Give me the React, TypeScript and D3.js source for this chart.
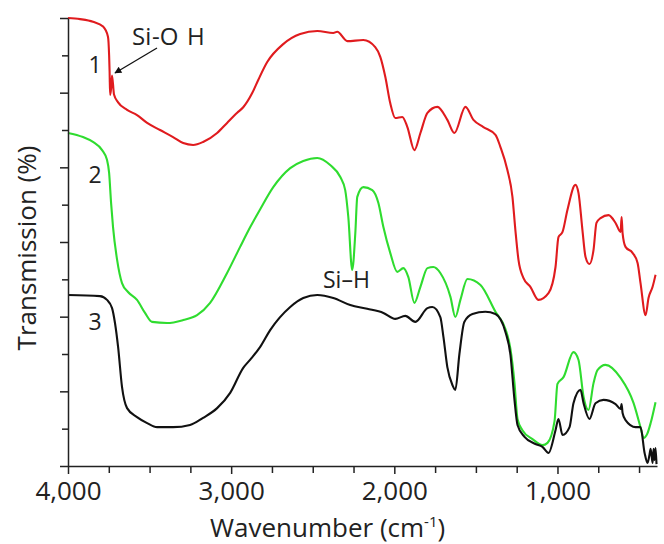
import React, { useEffect, useRef } from "react";
import * as d3 from "d3";

// [wavenumber (cm-1), transmission (a.u.)]
const spectrum1 = [
  [4000, 120], [3926, 119.7], [3847, 119], [3785, 117.7], [3755, 115], [3748, 110],
  [3745, 105.6], [3742, 99.4], [3736, 101], [3730, 104.6], [3718, 99.5], [3693, 97.4],
  [3638, 95.4], [3577, 94], [3515, 91.9], [3436, 90], [3356, 88.1], [3294, 86.5],
  [3233, 86], [3172, 86.8], [3086, 89.2], [3025, 91.9], [2963, 94.6], [2926, 96.1],
  [2871, 99.9], [2834, 103.4], [2779, 108.2], [2681, 113], [2577, 115.7], [2472, 116.5],
  [2374, 116], [2350, 116.3], [2288, 113.8], [2190, 114.1], [2117, 112.2], [2086, 109.6],
  [2055, 104.2], [2025, 97.2], [1994, 93.2], [1951, 93.5], [1920, 90.8], [1877, 84.6],
  [1840, 89.2], [1797, 94.6], [1736, 96.2], [1675, 92.7], [1632, 89.2], [1564, 96.2],
  [1515, 92.7], [1454, 90.8], [1380, 88.7], [1350, 85.5], [1307, 79.3], [1276, 72.1],
  [1258, 63.2], [1239, 55.2], [1209, 50.4], [1166, 48], [1117, 44.5], [1055, 46.3],
  [1012, 53.3], [994, 61.3], [969, 62.7], [939, 68.6], [890, 75.3], [871, 73.1],
  [847, 63.2], [828, 56], [804, 54.1], [779, 57.9], [761, 65.1], [736, 66.4],
  [687, 67.2], [644, 65.1], [613, 62.7], [607, 66.7], [601, 62.4], [583, 58.7],
  [540, 57.1], [509, 54.4], [491, 49], [460, 40.4], [442, 45], [417, 48], [399, 51.2],
];

const spectrum2 = [
  [4000, 89.2], [3908, 88.1], [3847, 86.8], [3791, 84.6], [3761, 82], [3748, 78.5],
  [3736, 70.5], [3724, 64], [3699, 55.2], [3669, 49], [3632, 46.6], [3577, 44.5],
  [3528, 41], [3485, 38.6], [3393, 38.3], [3294, 39.1], [3209, 40.4], [3129, 43.7],
  [3025, 51.7], [2945, 58.7], [2883, 64], [2822, 68.8], [2742, 74.7], [2638, 79.8],
  [2558, 81.7], [2472, 82.5], [2393, 80.6], [2331, 77.4], [2301, 73.9], [2282, 66.7],
  [2258, 52.5], [2239, 62.4], [2227, 72.1], [2190, 74.7], [2135, 73.9], [2098, 70.5],
  [2067, 64], [2025, 57.1], [1982, 52], [1945, 53], [1914, 50.6], [1877, 43.7],
  [1840, 48], [1797, 53], [1761, 53.3], [1718, 51.7], [1656, 45.3], [1626, 39.9],
  [1595, 44.5], [1552, 50.1], [1472, 48.5], [1380, 41.3], [1319, 36.7], [1288, 31.3],
  [1264, 22.5], [1245, 12.6], [1215, 9.6], [1153, 7.2], [1092, 5.6], [1061, 6.2],
  [1018, 12], [1000, 22], [963, 23.8], [902, 30.5], [871, 28.4], [840, 18.5],
  [810, 15], [779, 22.2], [755, 25.7], [706, 27.1], [613, 23.6], [534, 16.9],
  [491, 10.4], [472, 7.5], [450, 8.6], [429, 11.5], [399, 17.1],
];

const spectrum3 = [
  [4000, 45.8], [3804, 45.5], [3761, 44.5], [3730, 42.3], [3712, 38.3], [3693, 31.9],
  [3669, 21.2], [3638, 15.5], [3577, 13.1], [3515, 11.5], [3454, 10.4], [3356, 10.4],
  [3252, 11], [3172, 12.9], [3086, 15.5], [3006, 19.6], [2926, 26.3], [2883, 28.5],
  [2822, 31.9], [2761, 36.4], [2638, 42.6], [2558, 45], [2472, 45.8], [2374, 45],
  [2270, 43.1], [2166, 42.1], [2067, 41], [1994, 39.4], [1933, 40.2], [1871, 38.6],
  [1797, 42.3], [1767, 42.6], [1718, 39.9], [1699, 34.6], [1675, 26.5], [1644, 21.7],
  [1626, 20.4], [1601, 30], [1571, 38.6], [1521, 40.7], [1442, 41.3], [1380, 40.7],
  [1319, 35.9], [1288, 29.7], [1264, 17.9], [1245, 11], [1202, 7.8], [1135, 5.9],
  [1092, 5.1], [1055, 3.5], [1012, 9.6], [994, 12.6], [969, 8.3], [926, 10.4],
  [902, 16.8], [859, 20.4], [840, 16.8], [804, 12.6], [767, 16.8], [718, 17.7],
  [644, 16.6], [613, 15.3], [607, 16.6], [601, 14.2], [583, 12.3], [521, 10.4],
  [491, 10.4], [466, 3.5], [448, 0.8], [436, 3], [429, 4.6], [417, 0.8], [411, 4.6],
  [405, 1.6], [399, 4.8], [393, 0.5],
];

const spectra = [spectrum1, spectrum2, spectrum3];
const curveLabels = ["1", "2", "3"];
const curveColors = ["#e01b1e", "#2fdc2f", "#111111"];
const xMajorTicks = [4000, 3000, 2000, 1000];
const xMinorTicks = [3750, 3500, 3250, 2750, 2500, 2250, 1750, 1500, 1250, 750, 500];
const yMajorTicks = [0, 20, 40, 60, 80, 100, 120];
const yMinorTicks = [10, 30, 50, 70, 90, 110];

const FONT = "'Open Sans', sans-serif";

const SpectraChart = () => {
  const svgRef = useRef(null);

  useEffect(() => {
    const svg = d3.select(svgRef.current);
    svg.selectAll("*").remove();

    const x = d3.scaleLinear().domain([4000, 390]).range([68, 657]);
    const y = d3.scaleLinear().domain([0, 120]).range([466, 18]);

    const line = d3
      .line()
      .x((d) => x(d[0]))
      .y((d) => y(d[1]))
      .curve(d3.curveMonotoneX);

    svg
      .selectAll(".spectrum")
      .data(spectra)
      .enter()
      .append("path")
      .attr("class", "spectrum")
      .attr("d", (d) => line(d))
      .attr("fill", "none")
      .attr("stroke", (d, i) => curveColors[i])
      .attr("stroke-width", 2.1)
      .attr("stroke-linejoin", "round");

    // x axis
    svg
      .append("g")
      .attr("transform", "translate(0, 466)")
      .call(d3.axisBottom(x).tickValues(xMinorTicks).tickSize(7).tickSizeOuter(0).tickFormat(() => ""))
      .call((g) => g.select(".domain").remove());
    const xAxis = svg
      .append("g")
      .attr("transform", "translate(0, 466)")
      .call(
        d3
          .axisBottom(x)
          .tickValues(xMajorTicks)
          .tickSize(8)
          .tickSizeOuter(0)
          .tickPadding(8)
          .tickFormat(d3.format(","))
      );
    xAxis.selectAll("text").attr("font-size", 26).attr("font-family", FONT).attr("fill", "#222");

    // y axis
    svg
      .append("g")
      .attr("transform", "translate(68, 0)")
      .call(d3.axisLeft(y).tickValues(yMinorTicks).tickSize(6).tickSizeOuter(0).tickFormat(() => ""))
      .call((g) => g.select(".domain").remove());
    svg
      .append("g")
      .attr("transform", "translate(68, 0)")
      .call(d3.axisLeft(y).tickValues(yMajorTicks).tickSize(8).tickSizeOuter(0).tickFormat(() => ""));

    svg.selectAll(".domain, .tick line").attr("stroke", "#222").attr("stroke-width", 1.5);

    // axis titles
    const xTitle = svg
      .append("text")
      .attr("x", 210)
      .attr("y", 537)
      .attr("font-family", FONT)
      .attr("font-size", 26)
      .attr("fill", "#222");
    xTitle.append("tspan").text("Wavenumber (cm");
    xTitle.append("tspan").attr("font-size", 15).attr("dy", -10).text("-1");
    xTitle.append("tspan").attr("dy", 10).text(")");

    svg
      .append("text")
      .attr("transform", "translate(36, 248) rotate(-90)")
      .attr("text-anchor", "middle")
      .attr("font-family", FONT)
      .attr("font-size", 26)
      .attr("fill", "#222")
      .text("Transmission (%)");

    // curve numbers
    const labelY = [73, 183, 330];
    svg
      .selectAll(".curve-label")
      .data(curveLabels)
      .enter()
      .append("text")
      .attr("class", "curve-label")
      .attr("x", 95)
      .attr("y", (d, i) => labelY[i])
      .attr("text-anchor", "middle")
      .attr("font-family", FONT)
      .attr("font-size", 23)
      .attr("fill", "#222")
      .text((d) => d);

    // Si-OH annotation with arrow
    svg
      .append("defs")
      .append("marker")
      .attr("id", "arrowhead")
      .attr("viewBox", "0 0 10 10")
      .attr("refX", 9)
      .attr("refY", 5)
      .attr("markerWidth", 10)
      .attr("markerHeight", 7)
      .attr("markerUnits", "userSpaceOnUse")
      .attr("orient", "auto")
      .append("path")
      .attr("d", "M0,0L10,5L0,10Z")
      .attr("fill", "#111");
    svg
      .append("line")
      .attr("x1", 157)
      .attr("y1", 48)
      .attr("x2", 115)
      .attr("y2", 73)
      .attr("stroke", "#111")
      .attr("stroke-width", 1.3)
      .attr("marker-end", "url(#arrowhead)");

    const siOH = svg
      .append("text")
      .attr("y", 45)
      .attr("font-family", FONT)
      .attr("font-size", 24)
      .attr("fill", "#222");
    siOH.append("tspan").attr("x", 132).text("Si");
    siOH.append("tspan").attr("x", 152).text("-O");
    siOH.append("tspan").attr("x", 187).text("H");

    svg
      .append("text")
      .attr("x", 323)
      .attr("y", 288)
      .attr("font-family", FONT)
      .attr("font-size", 23)
      .attr("fill", "#222")
      .text("Si\u2013H");
  }, []);

  return (
    <svg
      ref={svgRef}
      width={664}
      height={544}
      style={{ position: "absolute", left: 0, top: 0, background: "#fff" }}
    ></svg>
  );
};

export default function App() {
  return <SpectraChart />;
}
